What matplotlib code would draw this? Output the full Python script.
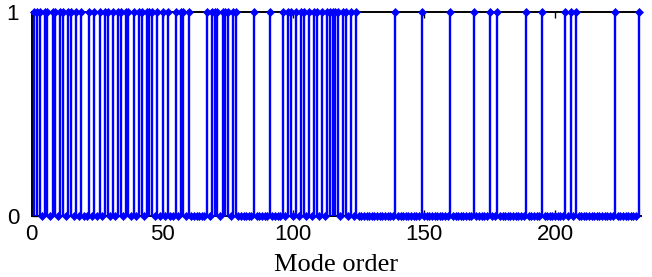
import numpy as np
import matplotlib.pyplot as plt

# mode flags, one character per mode (modes 1..125)
dense_part = (
    "111011011011011"        # 1-15
    "010100101010110101"     # 16-33
    "1011010"                # 34-40
    "1101110"                # 41-47
    "1010100"                # 48-54
    "101101000000"           # 55-66
    "101"                    # 67-69
    "110111011"              # 70-78
    "000000"                 # 79-84
    "10000010000"            # 85-95
    "1011010110101101011"    # 96-114
    "11101101010"            # 115-125
)
# isolated modes equal to 1 after mode 125
sparse_ones = [139, 149, 160, 169, 175, 178, 189, 195, 204, 206, 208, 223, 232]
n_modes = 232

x_ticks = [0, 50, 100, 150, 200]
y_ticks = [0, 1]

mode_order = np.arange(1, n_modes + 1)
flags = np.zeros(n_modes, dtype=int)
flags[:len(dense_part)] = [int(c) for c in dense_part]
for m in sparse_ones:
    flags[m - 1] = 1

blue = '#0000ff'
fig = plt.figure(figsize=(6.52, 2.77), dpi=100)
ax = fig.add_axes([0.0486, 0.22, 0.935, 0.737])

# vertical jumps at every mode equal to 1, flat runs joined along the top/bottom
ones = mode_order[flags == 1]
ax.vlines(ones, 0, 1, color=blue, linewidth=1.7, zorder=3)
same = flags[1:] == flags[:-1]
ax.hlines(flags[:-1][same], mode_order[:-1][same], mode_order[1:][same],
          color=blue, linewidth=1.7, zorder=3, clip_on=False)
ax.plot(mode_order, flags, linestyle='none', marker='D', color=blue,
        markersize=4, markeredgewidth=0.5, clip_on=False, zorder=4)

ax.set_xlim(0, n_modes + 1)
ax.set_ylim(0, 1)
ax.set_xticks(x_ticks)
ax.set_yticks(y_ticks)
ax.tick_params(direction='in', length=4, width=1, top=True, right=False,
               labelsize=16)
ax.tick_params(axis='x', pad=6)
ax.tick_params(axis='y', pad=9)
for lab in ax.get_xticklabels() + ax.get_yticklabels():
    lab.set_family('Liberation Sans')
for sp in ax.spines.values():
    sp.set_linewidth(1.4)
    sp.set_zorder(2)
ax.spines['right'].set_visible(False)

ax.set_xlabel('Mode order', family='Liberation Serif', fontsize=19, labelpad=6)

plt.savefig('out.png', dpi=100)
plt.close()
